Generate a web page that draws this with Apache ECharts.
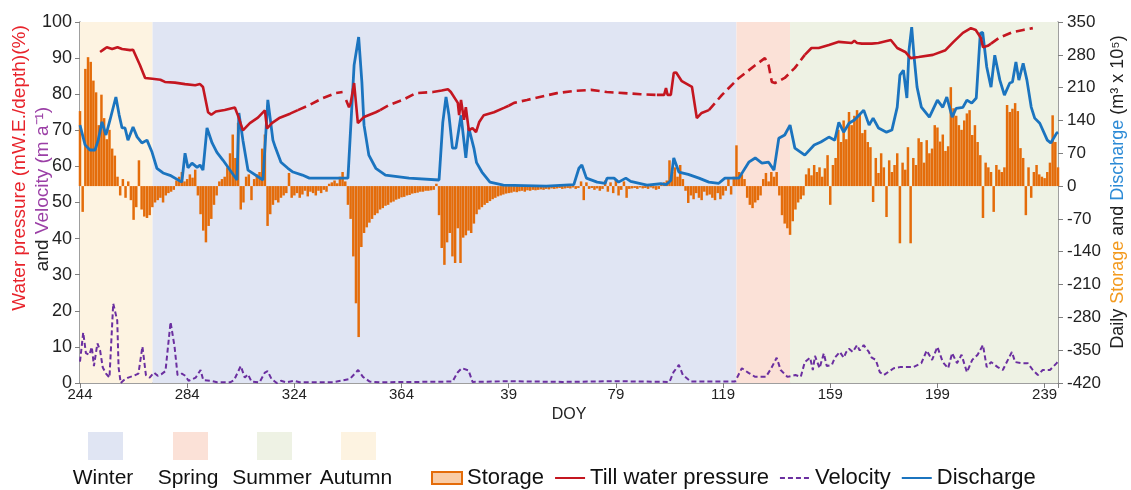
<!DOCTYPE html>
<html>
<head>
<meta charset="utf-8">
<script src="https://cdn.jsdelivr.net/npm/echarts@6/dist/echarts.min.js"></script>
<style>
html, body { margin: 0; padding: 0; background: #fff; }
#chart { width: 1131px; height: 490px; }
</style>
</head>
<body>
<div id="chart"></div>
<script>
// x is day offset from DOY 244 (0..365), labels wrap into the next year
var doyTicks = [244, 284, 324, 364, 39, 79, 119, 159, 199, 239];

// seasons as [name, startDay, endDay, colour]
var seasonNames = ['Winter', 'Spring', 'Summer', 'Autumn'];
var seasonStart = [27, 245, 265, 0];
var seasonEnd = [245, 265, 365, 27];
var seasonColors = ['#e0e5f3', '#fbe1d7', '#eef2e4', '#fdf3e1'];

// daily storage (m3 x 10^5), one value per day from day 0
var storage = [
    160, -55, 250, 275, 265, 225, 200, 130, 195, 145,
    100, 120, 80, 65, 20, -20, 15, -25, 10, -30,
    -72, -45, 55, -50, -65, -68, -62, -45, -35, -30,
    -25, -35, -20, -15, -12, -8, 12, 20, 30, 10,
    15, 25, 18, 35, -20, -60, -95, -120, -85, -70,
    -40, -20, 10, 15, 20, 40, 70, 110, 60, 135,
    -50, -35, 20, 25, -30, 15, 25, 30, 80, 110,
    -85, -60, -40, -30, -35, -25, -20, -15, 28, -25,
    -20, -15, -25, -18, -10, -22, -12, -15, -20, -10,
    -15, -8, -12, 5, 8, 12, 6, 20, 30, 10,
    -40, -70, -150, -250, -322, -130, -100, -88, -78, -70,
    -62, -58, -50, -47, -42, -40, -35, -33, -29, -27,
    -24, -23, -20, -19, -16, -15, -14, -12, -12, -10,
    -10, -9, -8, 5, -62, -132, -168, -120, -100, -150,
    -164, -90, -164, -110, -105, -95, -100, -80, -60, -50,
    -45, -40, -36, -32, -28, -25, -22, -20, -18, -16,
    -15, -14, -12, -13, -11, -10, -12, -9, -10, -8,
    -9, -8, -7, -8, -6, -7, -5, -6, -5, -4,
    -6, -5, -4, -5, -3, -6, -4, 10, -30, 8,
    -6, -4, -8, -5, -10, -6, 12, -12, 8, -15,
    15, -20, -8, 10, -25, -6, -5, -4, -6, -3,
    -5, -4, -6, -3, -5, -8, -6, 5, 8, 12,
    55, 30, 40, 20, 45, 15, -10, -36, -20, -28,
    -15, -25, -30, -12, -20, -18, -25, -30, -15, -28,
    -20, -10, 15, -18, 20, 87, 30, 25, 15, -25,
    -40, -47, -35, -30, -20, 15, 28, 10, 30, 20,
    30, -20, -62, -80, -90, -104, -75, -50, -35, -28,
    -20, 25, 38, 23, 45, 30, 40, 20, 38, 66,
    -40, 45, 60, 120, 94, 140, 100, 158, 130, 150,
    162, 154, 113, 120, 94, 83, -34, 60, 28, 70,
    40, -66, 55, 30, 45, 70, -122, 50, 35, 83,
    -122, 60, 45, 102, 94, 50, 98, 70, 80, 130,
    125, 95, 110, 75, 85, 211, 166, 150, 130, 120,
    140, 155, 162, 109, 130, 94, 66, -68, 50, 40,
    30, -55, 45, 35, 30, 40, 173, 158, 165, 177,
    160, 81, 60, -62, 40, -25, 30, 45, 25, 20,
    17, 30, 50, 151, 94, 40
];

// discharge [day, m3 x 10^5]
var discharge = [
    [0,130],[1.9,88],[3.7,77],[5.6,77],[6.8,98],[8.2,137],[9.7,109],[11.2,141],[13.4,190],[14.6,152],
    [15.7,124],[16.8,124],[17.9,98],[19.8,126],[21.3,105],[23.1,92],[25,98],[26.9,72],[28.7,38],[31,28],
    [33.6,23],[38,8.5],[39.2,70],[40.3,39],[41.8,49],[43.7,40],[44.8,45],[45.9,34],[47.4,124],[49.3,92],
    [51.1,72],[53.4,55],[58.6,13],[59.3,156],[60.8,98],[62.7,34],[68.3,13],[70.1,184],[72,98],[73,81],
    [75,51],[77.6,38],[79.5,30],[83,23.5],[85.6,17],[100,17],[102.3,258],[104,318],[105.2,222],[106,130],
    [107.8,66],[110.4,38],[114,23.5],[122.8,17],[134,13],[135.4,136],[136.6,190],[137.7,151],[139,81],[140.3,81],
    [142.2,151],[144,60],[145.1,124],[147,81],[148,50],[150,30],[153,8.5],[158,2],[174,0],[184.3,3],
    [186.2,38],[187.3,45],[189,17],[193,8.5],[196,6],[196.7,17],[199.3,17],[201,8.5],[203.7,17],[205.5,10],
    [211.6,2],[216.8,5],[218.7,3],[220.5,12],[221.6,60],[223.5,30],[227,25],[231,17],[234.7,8.5],[238.4,6],
    [240.7,17],[245.9,17],[249.6,51],[252,60],[254.5,49],[257,51],[259,34],[260.8,102],[263,109],[265,130],
    [266.8,81],[270.5,66],[274,87.5],[276.5,94],[279.5,104.5],[281.7,98],[283.2,136],[285,115],[287,134],[289,141],
    [290.7,151],[292.5,162],[294.5,130],[296,145],[298,124],[301,115],[303,119.5],[305,168.5],[306,236.6],[307.3,247],
    [308.6,188],[309.4,290],[310.4,339],[311.3,275],[312.4,211],[314,168.5],[317,147],[320,183.5],[322,168],[323.5,190],
    [325.5,147],[327,166],[329.5,168],[331,183.5],[332.8,177],[334.5,188],[336,326],[336.9,328],[338.4,254],[340,211],
    [341.4,279],[343.3,226],[345,194],[347,220],[348,222],[349.3,264.5],[350.4,226],[352,262],[353.4,226],[355,168.5],
    [356.3,145],[358.2,134],[361,98],[362.3,92],[364.5,113],[365,115]
];

// till water pressure (%), solid stretches and dashed stretches, null = gap
var pressureSolid = [
    [7.5,91.7],[9,92.5],[10,93],[12,92.5],[14,93],[15.7,92.5],[18.7,92.2],[19.8,92.3],[22.4,88],[24.3,84.5],
    [27,84.3],[30,84],[31.7,83.4],[35.4,83.2],[39.2,82.8],[43,82.5],[44.8,82.8],[45.9,82],[47.8,75],[49,74.3],
    [50.7,75.2],[54,75.6],[57.8,76.3],[59,74],[60.8,70],[63.4,72],[66.4,73.5],[69,75.5],[69.8,70.5],[71.6,72],
    [74.6,73.5],[78.4,74.6],[81.3,75.6], null,
    [99.3,78.4],[100.4,76.4],[101,77.5],[102.3,83.1],[103.7,72],[106,73.7],[110.4,75],[112,75.6], null,
    [131.7,80.6],[135,81],[137.3,81.4],[138.4,80.6],[141,77.6],[141.5,74.2],[142.2,78.4],[143.3,72.9],[144,76.4],[145.1,70],
    [146.5,70.6],[147.8,69.5],[149,72.3],[150.7,74.2],[154.5,75],[158.2,76.2],[160,76.8], null,
    [215.3,79.8],[218,79.8],[218.7,81.7],[219.3,79.8],[220.5,79.8],[221.6,85.9],[222.5,86],[224.6,83.6],[228.4,82],[230.2,73.4],
    [232,74.8],[234.7,75.6], null,
    [270.5,90.9],[273,92.8],[275.7,92.8],[279.5,93.6],[283.2,94.5],[288,94.2],[289,94.8],[290,94.2],[291.8,94],[295.5,94],
    [298,94.2],[302.6,95],[305,92.8],[308,91.7],[310,90],[313,90.3],[318.3,90.9],[323,92.2],[326,94.5],[329.5,97],
    [332.5,98.3],[334.3,97.8],[336.2,95.6],[337,93],[338.8,93.4],[340,94]
];
var pressureDashed = [
    [81.3,75.6],[85.6,77],[90.6,78.9],[95.5,80.3],[98,80.6], null,
    [112,75.6],[115.4,77],[120.4,78.4],[125.4,80.3],[131.7,80.6], null,
    [160,76.8],[162,77.6],[166.8,78.4],[172,79.3],[178,80.3],[184.3,80.9],[190.7,81.2],[196.6,80.6],[203,80.3],[209.3,80],
    [215.3,79.8], null,
    [234.7,75.6],[239.6,79.8],[245.9,84.5],[252,88],[255.6,90],[257,88],[258.2,83.4],[259.4,83.1],[263,84.5],[266.8,87.3],
    [270.5,90.9], null,
    [340,94],[343,95.6],[348,97.2],[352,97.8],[355.6,98.3]
];

// velocity (m a-1)
var velocity = [
    [0,5.9],[1.2,14],[2.2,8.3],[3.5,7.8],[4.4,10],[5.2,4.7],[6.5,11],[7.5,9],[8.5,4.3],[9.7,2.6],
    [11,1.5],[12.4,22],[13.9,17.3],[14.4,4.3],[15.2,0],[16.4,0.8],[18,1.5],[20,2],[21.8,2.6],[23.3,10.1],
    [24.6,2.2],[26,1.5],[27.6,2.9],[29,2],[30.3,2.4],[31.9,3.3],[33.8,16.9],[35.3,10],[36.4,2.2],[38,2.6],
    [39.3,2],[40.5,0.6],[43.2,1.5],[45,3.6],[46,0.8],[48.8,0.6],[51.2,0.2],[56,0.2],[57.5,0.8],[60,4.7],
    [61.5,1.5],[62.7,2.4],[64,0.4],[67,0.2],[69,2.9],[70,3.3],[71.5,1.1],[73.4,0],[75,0.6],[77,0.2],
    [80,0.6],[82,0.2],[94.5,0.2],[100.7,1.1],[103.8,3.6],[105.6,1.7],[108.1,0.4],[111.8,0.2],[139,0.4],[141,3],
    [142.5,4.1],[145,3.5],[146.5,0.3],[160,0.5],[180,0.3],[200,0.5],[220,0.3],[221.5,3],[223.5,5],[225,2.2],
    [228,0.4],[244.5,0.4],[247,4.1],[249.5,2.8],[252,1.7],[256,1.7],[258,4.1],[260,7],[261.5,3.6],[264,1.7],
    [267,2.2],[269,1.7],[270.5,5.8],[272.5,7],[273.5,3.6],[274.3,7.5],[276,4.1],[277.6,8.2],[278.7,4.7],[280.6,5],
    [281.7,7],[283.6,8.6],[285,7],[286,8.6],[287,9.5],[288.4,8.6],[290,10.5],[291,9],[292.5,10.5],[294.4,8.6],
    [295.5,7],[297,6.4],[298.5,3],[300,2.2],[303.7,4.1],[306,4.4],[311,4.4],[314,5.5],[316,9],[318,6.4],
    [320,10],[322,5.8],[324,4.1],[325.5,8.3],[327.3,5.5],[329,7.8],[331,3],[333,6.4],[335,7.8],[337,10.5],
    [338.4,4.4],[340,5.8],[342.5,4.4],[344.4,3.6],[346.3,6.4],[347.8,8.6],[349,5.8],[351.5,5.5],[353.7,5.5],[355.6,3.6],
    [357.5,2.2],[359.3,3.6],[362,3.6],[364.5,5.5],[365,6]
];

var FONT = '"Liberation Sans", Arial, sans-serif';
var myChart = echarts.init(document.getElementById('chart'));

var seasonAreas = [];
var seasonLegend = [];
var boxX = [88, 173, 257, 341];
for (var i = 0; i < seasonNames.length; i++) {
    seasonAreas.push([
        { xAxis: seasonStart[i], itemStyle: { color: seasonColors[i] } },
        { xAxis: seasonEnd[i] }
    ]);
    seasonLegend.push({
        type: 'rect', left: boxX[i], top: 432,
        shape: { width: 35, height: 28 },
        style: { fill: seasonColors[i] }
    });
    seasonLegend.push({
        type: 'text', x: boxX[i] + 15, y: 478,
        style: { text: seasonNames[i], fill: '#111', font: '21px ' + FONT, align: 'center', verticalAlign: 'middle' }
    });
}

var axisGrey = '#7f7f7f';
var noSymbol = { opacity: 0 };

var option = {
    animation: false,
    textStyle: { fontFamily: FONT },
    grid: { left: 80, right: 73, top: 22, bottom: 107 },
    legend: {
        data: [
            { name: 'Storage', icon: 'rect', itemStyle: { color: '#f9cca6', borderColor: '#e46c0a', borderWidth: 2 } },
            { name: 'Till water pressure', itemStyle: noSymbol },
            { name: 'Velocity', itemStyle: noSymbol },
            { name: 'Discharge', itemStyle: noSymbol }
        ],
        left: 431, top: 467, padding: 0,
        itemWidth: 30, itemHeight: 12, itemGap: 10,
        textStyle: { fontSize: 22, color: '#111', fontFamily: FONT }
    },
    graphic: seasonLegend.concat([
        {
            type: 'text', x: 20, y: 168, rotation: Math.PI / 2,
            style: { text: 'Water pressure (mW.E./depth)(%)', fill: '#e8232b', font: '19px ' + FONT, align: 'center', verticalAlign: 'middle' }
        },
        {
            type: 'text', x: 43, y: 189, rotation: Math.PI / 2,
            style: {
                text: '{k|and }{p|Velocity (m a\u207b\u00b9)}', align: 'center', verticalAlign: 'middle',
                rich: {
                    k: { fill: '#222', fontSize: 19, fontFamily: FONT },
                    p: { fill: '#9b3fa6', fontSize: 19, fontFamily: FONT }
                }
            }
        },
        {
            type: 'text', x: 1118, y: 192, rotation: Math.PI / 2,
            style: {
                text: '{k|Daily }{o|Storage}{k| and }{b|Discharge}{k| (m\u00b3 x 10\u2075)}', align: 'center', verticalAlign: 'middle',
                rich: {
                    k: { fill: '#222', fontSize: 18, fontFamily: FONT },
                    o: { fill: '#f39a1e', fontSize: 18, fontFamily: FONT },
                    b: { fill: '#2d8bd6', fontSize: 18, fontFamily: FONT }
                }
            }
        }
    ]),
    xAxis: {
        type: 'value', min: 0, max: 365, interval: 40,
        name: 'DOY', nameLocation: 'middle', nameGap: 18,
        nameTextStyle: { fontSize: 16, color: '#222' },
        axisLine: { show: true, onZero: false, lineStyle: { color: axisGrey, width: 1.5 } },
        axisTick: { show: true, length: 5, lineStyle: { color: axisGrey } },
        axisLabel: {
            fontSize: 15, color: '#222', margin: 4,
            formatter: function (v) { return v % 40 === 0 ? String(doyTicks[v / 40]) : ''; }
        },
        splitLine: { show: false }
    },
    yAxis: [
        {
            type: 'value', min: 0, max: 100, interval: 10, position: 'left',
            axisLine: { show: true, onZero: false, lineStyle: { color: axisGrey, width: 1.5 } },
            axisTick: { show: true, length: 5, lineStyle: { color: axisGrey } },
            axisLabel: { fontSize: 18, color: '#222', margin: 8 },
            splitLine: { show: false }
        },
        {
            type: 'value', min: -420, max: 350, interval: 70, position: 'right',
            axisLine: { show: true, onZero: false, lineStyle: { color: axisGrey, width: 1.5 } },
            axisTick: { show: true, length: 5, lineStyle: { color: axisGrey } },
            axisLabel: { fontSize: 17, color: '#222', margin: 9 },
            splitLine: { show: false }
        }
    ],
    series: [
        {
            name: 'seasons', type: 'line', data: [[0, 0]], z: 0, symbol: 'none',
            lineStyle: { opacity: 0 }, silent: true,
            markArea: { silent: true, data: seasonAreas }
        },
        {
            name: 'Storage', type: 'bar', yAxisIndex: 1, barWidth: 2.5,
            itemStyle: { color: '#e46c0a' },
            data: storage.map(function (v, i) { return [i, v]; })
        },
        {
            name: 'Discharge', type: 'line', yAxisIndex: 1, symbol: 'none',
            lineStyle: { color: '#1b74bf', width: 2.8 }, itemStyle: { color: '#1b74bf' },
            data: discharge
        },
        {
            name: 'Till water pressure', type: 'line', yAxisIndex: 0, symbol: 'none', connectNulls: false,
            lineStyle: { color: '#c41620', width: 2.6 }, itemStyle: { color: '#c41620' },
            data: pressureSolid
        },
        {
            name: 'Till water pressure', type: 'line', yAxisIndex: 0, symbol: 'none', connectNulls: false,
            lineStyle: { color: '#c41620', width: 2.6, type: [9, 5] }, itemStyle: { color: '#c41620' },
            data: pressureDashed
        },
        {
            name: 'Velocity', type: 'line', yAxisIndex: 0, symbol: 'none',
            lineStyle: { color: '#6b2fa0', width: 2, type: [5, 3] }, itemStyle: { color: '#6b2fa0' },
            data: velocity
        }
    ]
};
myChart.setOption(option);
</script>
</body>
</html>
